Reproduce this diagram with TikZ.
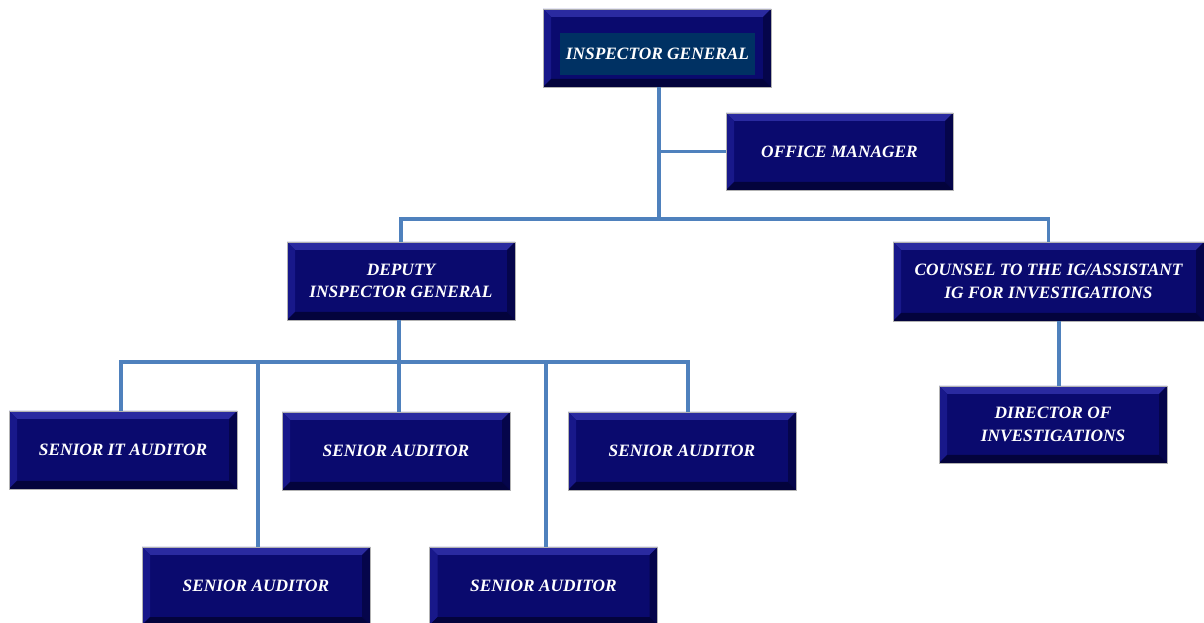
\documentclass[tikz,border=0pt]{standalone}
\usepackage{fontspec}
\setmainfont{Liberation Serif}
\definecolor{boxnavy}{HTML}{0A0A6E}
\definecolor{bevellight}{HTML}{2A2AA0}
\definecolor{bevelside}{HTML}{18188A}
\definecolor{beveldark}{HTML}{03033C}
\definecolor{igpanelblue}{HTML}{003163}
\definecolor{linkblue}{HTML}{4F81BD}

\begin{document}
\begin{tikzpicture}[
      x=0.75pt, y=-0.75pt,
      every node/.style={inner sep=0pt, align=center, text=white,
        font=\bfseries\itshape\fontsize{13}{17}\selectfont},
      post/.style={fill=boxnavy, draw=gray!60, line width=0.6pt,
        minimum width=171pt, minimum height=58.5pt,
        path picture={
          \coordinate (bvnw) at (path picture bounding box.north west);
          \coordinate (bvne) at (path picture bounding box.north east);
          \coordinate (bvsw) at (path picture bounding box.south west);
          \coordinate (bvse) at (path picture bounding box.south east);
          \fill[bevellight] (bvnw) -- (bvne) -- ([xshift=-6pt,yshift=-6pt]bvne)
            -- ([xshift=6pt,yshift=-6pt]bvnw) -- cycle;
          \fill[bevelside] (bvnw) -- ([xshift=6pt,yshift=-6pt]bvnw)
            -- ([xshift=6pt,yshift=6pt]bvsw) -- (bvsw) -- cycle;
          \fill[beveldark!70!boxnavy] (bvne) -- ([xshift=-6pt,yshift=-6pt]bvne)
            -- ([xshift=-6pt,yshift=6pt]bvse) -- (bvse) -- cycle;
          \fill[beveldark] (bvsw) -- ([xshift=6pt,yshift=6pt]bvsw)
            -- ([xshift=-6pt,yshift=6pt]bvse) -- (bvse) -- cycle;
        }},
      panel/.style={fill=igpanelblue, minimum width=146pt, minimum height=31.5pt},
      link/.style={draw=linkblue, line width=2.6pt}
    ]
      \useasboundingbox (0,0) rectangle (1204,623);

      % top of the chart
      \node[post] (ig) at (657,48) {};
      \node[panel] (igpanel) at (657.5,54) {INSPECTOR GENERAL};
      \node[post, minimum width=170.25pt, minimum height=57.75pt] (om) at (839.5,151.5) {OFFICE MANAGER};

      % second row
      \node[post] (deputy) at (401,281) {DEPUTY\\INSPECTOR GENERAL};
      \node[post, minimum width=233.25pt, minimum height=59.25pt] (counsel) at (1048.5,281.5)
        {COUNSEL TO THE IG/ASSISTANT\\IG FOR INVESTIGATIONS};
      \node[post, minimum height=57.75pt] (director) at (1053,424.5) {DIRECTOR OF\\INVESTIGATIONS};

      % auditors
      \node[post] (itaud) at (123,450) {SENIOR IT AUDITOR};
      \node[post] (auda) at (396,451) {SENIOR AUDITOR};
      \node[post] (audb) at (682,451) {SENIOR AUDITOR};
      \node[post] (audc) at (256,586) {SENIOR AUDITOR};
      \node[post] (audd) at (543.5,586) {SENIOR AUDITOR};

      \coordinate (mainbar) at (659,219);
      \coordinate (subbar) at (399,362);

      % connectors
      \draw[link] ([xshift=1.5pt]ig.south) -- ([xshift=1.5pt]ig.south |- mainbar);
      \draw[link] (mainbar |- om) -- (om.west);
      \draw[link] (deputy.north) |- (mainbar) -| (counsel.north);
      \draw[link] ([xshift=4.5pt]director.north) -- ([xshift=4.5pt]director.north |- counsel.south);
      \draw[link] ([xshift=-1.5pt]deputy.south) -- ([xshift=-1.5pt]deputy.south |- subbar);
      \draw[link] ([xshift=-1.5pt]itaud.north) |- (subbar) -| ([xshift=4.5pt]audb.north);
      \draw[link] ([xshift=2.25pt]auda.north) -- ([xshift=2.25pt]auda.north |- subbar);
      \draw[link] ([xshift=1.5pt]audc.north) -- ([xshift=1.5pt]audc.north |- subbar);
      \draw[link] ([xshift=1.9pt]audd.north) -- ([xshift=1.9pt]audd.north |- subbar);
\end{tikzpicture}
\end{document}
